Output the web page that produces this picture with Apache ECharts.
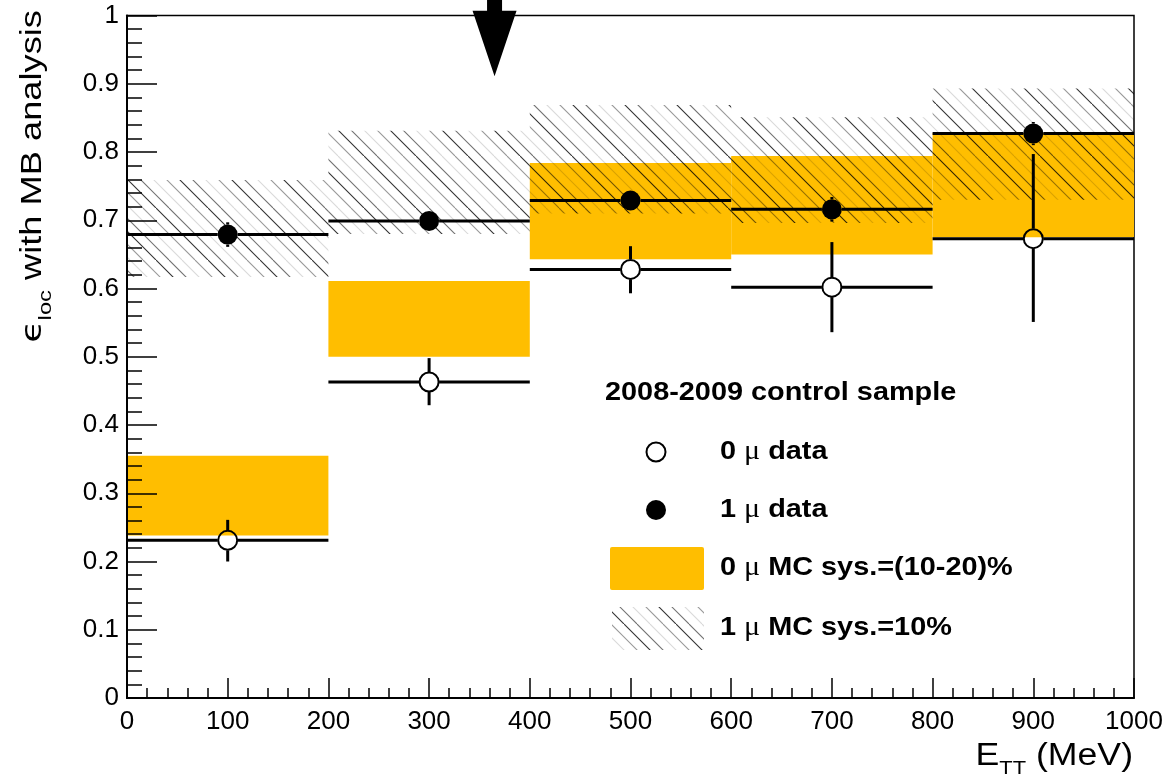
<!DOCTYPE html>
<html>
<head>
<meta charset="utf-8">
<script src="https://cdn.jsdelivr.net/npm/echarts@6/dist/echarts.min.js"></script>
<style>
  html, body { margin: 0; padding: 0; background: #fff; }
  #chart { width: 1175px; height: 776px; }
</style>
</head>
<body>
<div id="chart"></div>
<script>
// bins in E_TT (MeV)
var binLo = [0, 200, 400, 600, 800];
var binHi = [200, 400, 600, 800, 1000];
var binCenter = [100, 300, 500, 700, 900];

// 0 mu data (open circles)
var eff0mu = [0.231, 0.463, 0.628, 0.602, 0.673];
var err0muUp = [0.030, 0.035, 0.034, 0.066, 0.124];
var err0muDn = [0.031, 0.034, 0.035, 0.066, 0.122];

// 1 mu data (full circles)
var eff1mu = [0.679, 0.699, 0.729, 0.716, 0.827];
var err1muUp = [0.018, 0.010, 0.012, 0.018, 0.017];
var err1muDn = [0.018, 0.010, 0.012, 0.018, 0.017];

// MC bands
var mc0Lo = [0.238, 0.500, 0.643, 0.650, 0.675];
var mc0Hi = [0.355, 0.611, 0.784, 0.794, 0.828];
var mc1Lo = [0.617, 0.680, 0.710, 0.696, 0.730];
var mc1Hi = [0.759, 0.831, 0.869, 0.851, 0.893];

var yTicks = ['0', '0.1', '0.2', '0.3', '0.4', '0.5', '0.6', '0.7', '0.8', '0.9', '1'];

// arrow annotation: x, tail y, head base y, tip y
var arrowX = [365];
var arrowY = [1.03, 1.007, 0.911];

var ORANGE = '#ffbe00';
var FONT = 'Liberation Sans, Arial, Helvetica, sans-serif';
var MARK = 10;

function hatchPattern() {
  var size = 52;
  var cv = document.createElement('canvas');
  cv.width = size;
  cv.height = size;
  var ctx = cv.getContext('2d');
  var alphas = [0.8, 0.55, 0.15, 0.4];
  ctx.lineWidth = 1.1;
  for (var i = 0; i < 4; i++) {
    var o = i * 13;
    ctx.strokeStyle = 'rgba(0,0,0,' + alphas[i] + ')';
    ctx.beginPath();
    ctx.moveTo(o, 0); ctx.lineTo(o + size, size);
    ctx.moveTo(o - size, 0); ctx.lineTo(o, size);
    ctx.stroke();
  }
  return cv;
}
var hatch = hatchPattern();

function boxData(lo, hi) {
  return binLo.map(function (x, i) { return [x, binHi[i], lo[i], hi[i]]; });
}
function errData(eff, up, dn) {
  return binCenter.map(function (x, i) { return [x, eff[i], up[i], dn[i], binLo[i], binHi[i]]; });
}

function renderBox(fill) {
  return function (params, api) {
    var p0 = api.coord([api.value(0), api.value(3)]);
    var p1 = api.coord([api.value(1), api.value(2)]);
    return {
      type: 'rect',
      shape: { x: p0[0], y: p0[1], width: p1[0] - p0[0], height: p1[1] - p0[1] },
      style: { fill: fill }
    };
  };
}

function renderErr(params, api) {
  var xc = api.value(0), y = api.value(1);
  var c = api.coord([xc, y]);
  var l = api.coord([api.value(4), y]);
  var r = api.coord([api.value(5), y]);
  var t = api.coord([xc, y + api.value(2)]);
  var b = api.coord([xc, y - api.value(3)]);
  var st = { stroke: '#000', lineWidth: 3 };
  var kids = [
    { type: 'line', shape: { x1: l[0], y1: c[1], x2: c[0] - MARK, y2: c[1] }, style: st },
    { type: 'line', shape: { x1: c[0] + MARK, y1: c[1], x2: r[0], y2: c[1] }, style: st }
  ];
  if (t[1] < c[1] - MARK)
    kids.push({ type: 'line', shape: { x1: c[0], y1: t[1], x2: c[0], y2: c[1] - MARK }, style: st });
  if (b[1] > c[1] + MARK)
    kids.push({ type: 'line', shape: { x1: c[0], y1: c[1] + MARK, x2: c[0], y2: b[1] }, style: st });
  return { type: 'group', children: kids };
}

function renderArrow(params, api) {
  var x = api.value(0);
  var tail = api.coord([x, api.value(1)]);
  var base = api.coord([x, api.value(2)]);
  var tip = api.coord([x, api.value(3)]);
  var cx = tip[0];
  return {
    type: 'polygon',
    shape: { points: [
      [cx - 7.5, tail[1]], [cx + 7.5, tail[1]], [cx + 7.5, base[1]], [cx + 22, base[1]],
      [cx, tip[1]], [cx - 22, base[1]], [cx - 7.5, base[1]]
    ] },
    style: { fill: '#000' }
  };
}

var chart = echarts.init(document.getElementById('chart'), null, { renderer: 'canvas' });

var legendX = 720;
var textRich = {
  b: { fontFamily: FONT, fontWeight: 'bold', fontSize: 26, color: '#000' },
  mu: { fontFamily: 'Liberation Serif, DejaVu Serif, serif', fontSize: 27, color: '#000' }
};
function legendText(y, text) {
  return { type: 'text', x: legendX, y: y, z: 20, scaleX: 1.11, style: { text: text, rich: textRich, verticalAlign: 'middle' } };
}

var option = {
  animation: false,
  backgroundColor: '#fff',
  grid: { left: 127, right: 41, top: 15.5, bottom: 78, show: true, borderColor: '#000', borderWidth: 1.5, backgroundColor: 'transparent' },
  xAxis: {
    type: 'value', min: 0, max: 1000, interval: 100, z: 10,
    axisLine: { lineStyle: { color: '#000', width: 2 } },
    axisTick: { inside: true, length: 20, lineStyle: { color: '#000', width: 1.5 } },
    minorTick: { show: true, splitNumber: 5, length: 10, lineStyle: { color: '#000', width: 1.5 } },
    axisLabel: { color: '#000', fontFamily: FONT, fontSize: 26, margin: 11, formatter: function (v) { return String(v); } },
    splitLine: { show: false }
  },
  yAxis: {
    type: 'value', min: 0, max: 1, interval: 0.1, z: 10,
    axisLine: { lineStyle: { color: '#000', width: 2 } },
    axisTick: { inside: true, length: 30, lineStyle: { color: '#000', width: 1.5 } },
    minorTick: { show: true, splitNumber: 5, length: 15, lineStyle: { color: '#000', width: 1.5 } },
    axisLabel: {
      color: '#000', fontFamily: FONT, fontSize: 26, margin: 8, showMinLabel: true, showMaxLabel: true,
      formatter: function (v) { return yTicks[Math.round(v * 10)]; }
    },
    splitLine: { show: false }
  },
  series: [
    { name: '0 mu MC', type: 'custom', z: 1, renderItem: renderBox(ORANGE), data: boxData(mc0Lo, mc0Hi) },
    { name: '1 mu MC', type: 'custom', z: 2, renderItem: renderBox({ image: hatch, repeat: 'repeat' }), data: boxData(mc1Lo, mc1Hi) },
    { name: '0 mu err', type: 'custom', z: 3, renderItem: renderErr, data: errData(eff0mu, err0muUp, err0muDn) },
    { name: '1 mu err', type: 'custom', z: 3, renderItem: renderErr, data: errData(eff1mu, err1muUp, err1muDn) },
    {
      name: '0 mu data', type: 'scatter', z: 4, symbol: 'circle', symbolSize: 19,
      itemStyle: { color: 'transparent', borderColor: '#000', borderWidth: 2, opacity: 1 },
      data: binCenter.map(function (x, i) { return [x, eff0mu[i]]; })
    },
    {
      name: '1 mu data', type: 'scatter', z: 4, symbol: 'circle', symbolSize: 20,
      itemStyle: { color: '#000', opacity: 1 },
      data: binCenter.map(function (x, i) { return [x, eff1mu[i]]; })
    },
    {
      name: 'arrow', type: 'custom', z: 5, clip: false, renderItem: renderArrow,
      data: [[arrowX[0], arrowY[0], arrowY[1], arrowY[2]]]
    }
  ],
  graphic: [
    // axis titles
    {
      type: 'text', x: 33, y: 10, rotation: Math.PI / 2, scaleX: 1.25, z: 20,
      style: {
        text: '{e|\u03f5}{sub|loc}{m| with MB analysis}',
        align: 'right', verticalAlign: 'middle',
        rich: {
          e: { fontFamily: 'DejaVu Sans', fontSize: 29, lineHeight: 44, verticalAlign: 'middle', color: '#000' },
          sub: { fontFamily: FONT, fontSize: 19, lineHeight: 19, verticalAlign: 'bottom', color: '#000' },
          m: { fontFamily: FONT, fontSize: 29, lineHeight: 44, verticalAlign: 'middle', color: '#000' }
        }
      }
    },
    {
      type: 'text', x: 1133, y: 756, scaleX: 1.15, z: 20,
      style: {
        text: '{m|E}{sub|TT}{m| (MeV)}',
        align: 'right', verticalAlign: 'middle',
        rich: {
          sub: { fontFamily: FONT, fontSize: 19, lineHeight: 19, verticalAlign: 'bottom', color: '#000' },
          m: { fontFamily: FONT, fontSize: 31, lineHeight: 44, verticalAlign: 'middle', color: '#000' }
        }
      }
    },
    // legend
    {
      type: 'text', x: 605, y: 393, scaleX: 1.11, z: 20,
      style: { text: '2008-2009 control sample', fontFamily: FONT, fontWeight: 'bold', fontSize: 26, fill: '#000', align: 'left', verticalAlign: 'middle' }
    },
    { type: 'circle', z: 20, shape: { cx: 656, cy: 452, r: 9.5 }, style: { fill: '#fff', stroke: '#000', lineWidth: 2 } },
    { type: 'circle', z: 20, shape: { cx: 656, cy: 510, r: 10 }, style: { fill: '#000' } },
    { type: 'rect', z: 20, shape: { x: 610, y: 547, width: 94, height: 43, r: 2 }, style: { fill: ORANGE } },
    { type: 'rect', z: 20, shape: { x: 612, y: 607, width: 92, height: 43 }, style: { fill: { image: hatch, repeat: 'repeat' } } },
    legendText(452, '{b|0 }{mu|\u03bc}{b| data}'),
    legendText(510, '{b|1 }{mu|\u03bc}{b| data}'),
    legendText(568, '{b|0 }{mu|\u03bc}{b| MC sys.=(10-20)%}'),
    legendText(628, '{b|1 }{mu|\u03bc}{b| MC sys.=10%}')
  ]
};

chart.setOption(option);
</script>
</body>
</html>
